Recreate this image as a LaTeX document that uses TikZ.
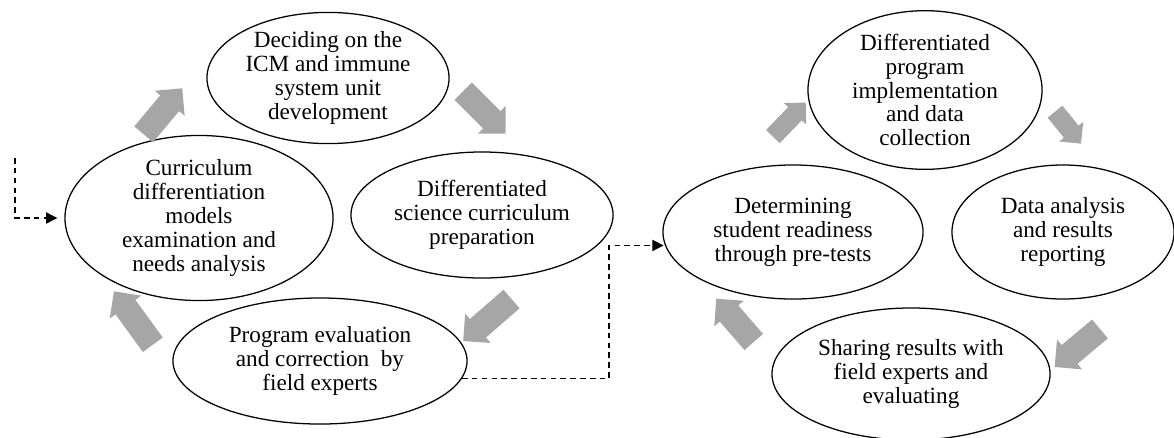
\documentclass[tikz,border=0pt]{standalone}
\usepackage{fontspec}
\setmainfont{Liberation Serif}
\usetikzlibrary{arrows.meta, shapes.geometric, shapes.arrows, calc}
\definecolor{arrowgrey}{HTML}{A6A6A6}

\begin{document}
\begin{tikzpicture}[x=0.025cm, y=-0.025cm,
  stage/.style={ellipse, draw, line width=0.9pt, inner sep=0pt, align=center,
                font=\fontsize{16.5}{17}\selectfont},
  bigarrow/.style={single arrow, fill=arrowgrey, inner xsep=0pt, inner ysep=0.3cm,
                   single arrow tip angle=90, single arrow head extend=0.18cm},
  smallarrow/.style={bigarrow, inner ysep=0.23cm, single arrow head extend=0.15cm},
  dashlink/.style={dashed, dash pattern=on 4pt off 3pt, line width=0.8pt,
                   -{Triangle[length=8pt,width=8pt]}}]
  \useasboundingbox (0,0) rectangle (1174,437);

  % Premier cycle
  \node[stage, minimum width=6.05cm, minimum height=3.2cm] (icm) at (328,78)
      {Deciding on the\\ICM and immune\\system unit\\development};
  \node[stage, minimum width=6.7cm, minimum height=3.5cm] (needs) at (199,218)
      {Curriculum\\differentiation\\models\\examination and\\needs analysis};
  \node[stage, minimum width=6.55cm, minimum height=3.15cm] (prep) at (482,215)
      {Differentiated\\science curriculum\\preparation};
  \node[stage, minimum width=7.35cm, minimum height=3.15cm] (evalfix) at (320,361)
      {Program evaluation\\and correction\ \ by\\field experts};

  % Flèches grises du premier cycle
  \node[bigarrow, minimum height=1.5cm, rotate=50] (a1) at (159,116) {};
  \node[bigarrow, minimum height=1.5cm, rotate=-45] (a2) at (480,108) {};
  \node[bigarrow, minimum height=1.6cm, rotate=221] (a3) at (492,316) {};
  \node[bigarrow, minimum height=1.65cm, rotate=126] (a4) at (137,323) {};

  % Second cycle
  \node[stage, minimum width=5.85cm, minimum height=3.6cm] (impl) at (925,90)
      {Differentiated\\program\\implementation\\and data\\collection};
  \node[stage, minimum width=6.5cm, minimum height=3.35cm] (ready) at (793,232)
      {Determining\\student readiness\\through pre-tests};
  \node[stage, minimum width=5.55cm, minimum height=3.35cm] (analysis) at (1063,232)
      {Data analysis\\and results\\reporting};
  \node[stage, minimum width=6.95cm, minimum height=3.3cm] (share) at (911,374)
      {Sharing results with\\field experts and\\evaluating};

  % Flèches grises du second cycle
  \node[smallarrow, minimum height=1.18cm, rotate=46] (a5) at (786,123) {};
  \node[smallarrow, minimum height=1.03cm, rotate=-51] (a6) at (1065,124) {};
  \node[bigarrow, minimum height=1.48cm, rotate=220] (a7) at (1082,344) {};
  \node[bigarrow, minimum height=1.43cm, rotate=131] (a8) at (739,325) {};

  % Liens pointillés
  \coordinate (entry) at (15,158);
  \draw[dashlink, shorten >=5pt] (entry) |- (needs);
  \coordinate (turn) at (609,379);
  \draw[dashlink, shorten >=1pt] (evalfix.-7) -- (evalfix.-7 -| turn) |- (ready.186);
\end{tikzpicture}
\end{document}
